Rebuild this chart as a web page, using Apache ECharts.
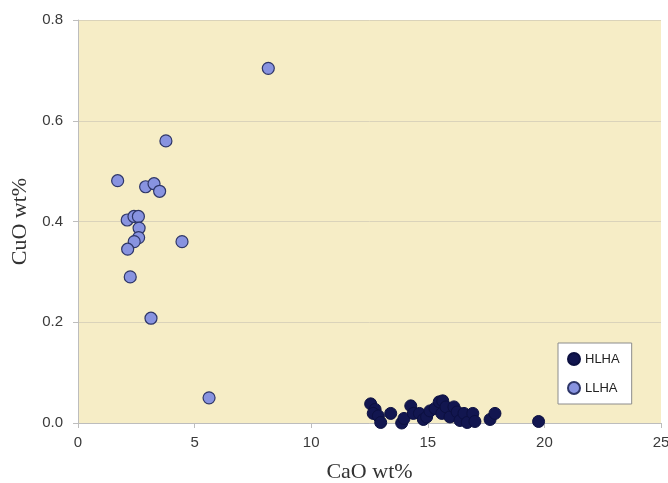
<!DOCTYPE html>
<html>
<head>
<meta charset="utf-8">
<script src="https://cdn.jsdelivr.net/npm/echarts@6/dist/echarts.min.js"></script>
<style>html,body{margin:0;padding:0;background:#fff}#c{width:668px;height:483px}</style>
</head>
<body>
<div id="c"></div>
<script>
// CaO wt% (x), CuO wt% (y)
const hlhaCaO = [12.55,12.74,12.66,12.88,12.98,13.41,13.88,13.98,14.27,14.38,14.64,14.81,14.95,15.09,15.31,15.49,15.64,15.60,15.78,15.95,16.12,16.26,16.38,16.55,16.69,16.93,17.02,17.67,17.88,19.75];
const hlhaCuO = [0.038,0.027,0.019,0.014,0.001,0.019,0.000,0.009,0.034,0.019,0.019,0.007,0.012,0.024,0.029,0.042,0.044,0.019,0.032,0.012,0.032,0.022,0.005,0.019,0.001,0.019,0.003,0.007,0.019,0.003];
const llhaCaO = [1.70,2.90,3.26,3.50,2.11,2.40,2.59,2.62,2.60,2.41,2.13,4.46,2.24,3.13,3.77,8.16,5.62];
const llhaCuO = [0.481,0.469,0.475,0.460,0.403,0.410,0.410,0.387,0.368,0.360,0.345,0.360,0.290,0.208,0.560,0.704,0.050];
const seriesNames = ['HLHA','LLHA'];
const xTicks = [0,5,10,15,20,25];
const yTicks = [0,0.2,0.4,0.6,0.8];

const zip = (a,b)=>a.map((v,i)=>[v,b[i]]);
const chart = echarts.init(document.getElementById('c'), null, {renderer:'canvas'});
const labelStyle = {color:'#3A3A3A', fontSize:15, fontFamily:'Liberation Sans, Arial, sans-serif'};
chart.setOption({
  animation:false,
  backgroundColor:'#ffffff',
  grid:{left:78, right:7, top:20, bottom:60, show:true, backgroundColor:'#F6EDC6', borderWidth:0,
        containLabel:false, outerBoundsMode:'none'},
  xAxis:{
    type:'value', min:xTicks[0], max:xTicks[xTicks.length-1], interval:5,
    name:'CaO wt%', nameLocation:'middle', nameGap:38,
    nameTextStyle:{fontFamily:'Liberation Serif, Times New Roman, serif', fontSize:22, color:'#333'},
    axisLine:{show:true, lineStyle:{color:'#BDBDBD', width:1}},
    axisTick:{show:true, length:5, lineStyle:{color:'#BDBDBD'}},
    axisLabel:{...labelStyle, margin:12, formatter:v=>String(v)},
    splitLine:{show:false}
  },
  yAxis:{
    type:'value', min:yTicks[0], max:yTicks[yTicks.length-1], interval:0.2,
    name:'CuO wt%', nameLocation:'middle', nameGap:46,
    nameTextStyle:{fontFamily:'Liberation Serif, Times New Roman, serif', fontSize:22, color:'#333'},
    axisLine:{show:true, lineStyle:{color:'#BDBDBD', width:1}},
    axisTick:{show:true, length:5, lineStyle:{color:'#BDBDBD'}},
    axisLabel:{...labelStyle, margin:15, formatter:v=>v.toFixed(1)},
    splitLine:{show:true, lineStyle:{color:'#DAD3BA', width:1}}
  },
  legend:{
    orient:'vertical', left:558, top:343, data:seriesNames,
    backgroundColor:'#ffffff', borderColor:'#8C8C8C', borderWidth:1,
    padding:[9,12,9,9], itemGap:15, itemWidth:12, itemHeight:12,
    textStyle:{color:'#222', fontSize:13, fontFamily:'Liberation Sans, Arial, sans-serif'}
  },
  series:[
    {name:seriesNames[0], type:'scatter', symbol:'circle', symbolSize:12,
     itemStyle:{color:'#121650', borderColor:'#0C1040', borderWidth:1, opacity:1},
     data:zip(hlhaCaO,hlhaCuO)},
    {name:seriesNames[1], type:'scatter', symbol:'circle', symbolSize:12,
     itemStyle:{color:'#8893E0', borderColor:'#2E3668', borderWidth:1.2, opacity:1},
     data:zip(llhaCaO,llhaCuO)}
  ]
});
</script>
</body>
</html>
